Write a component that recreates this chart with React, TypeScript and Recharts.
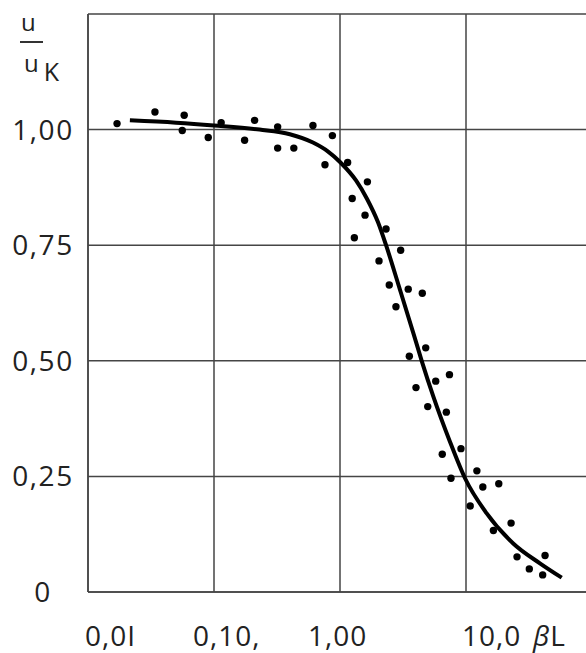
import { CartesianGrid, ComposedChart, Line, Scatter, XAxis, YAxis } from "recharts";

// measured points, beta*L vs u/uK
const pointX = [
  0.017, 0.034, 0.058, 0.056, 0.09, 0.114, 0.175, 0.21, 0.32, 0.32, 0.43, 0.61, 0.87, 0.76, 1.15, 1.65,
  1.25, 1.58, 2.32, 1.3, 3.03, 2.04, 2.46, 3.48, 4.5, 2.78, 4.79, 3.55, 5.75, 7.39, 4.01, 4.97, 6.98,
  6.48, 9.12, 7.6, 12.2, 13.6, 18.2, 10.8, 16.5, 22.8, 25.4, 42.4, 31.8, 40.6,
];
const pointY = [
  1.013, 1.038, 1.031, 0.998, 0.983, 1.015, 0.977, 1.02, 1.006, 0.96, 0.96, 1.009, 0.987, 0.924, 0.929,
  0.887, 0.851, 0.815, 0.785, 0.766, 0.739, 0.716, 0.664, 0.655, 0.646, 0.617, 0.528, 0.51, 0.456, 0.47,
  0.442, 0.401, 0.389, 0.298, 0.31, 0.246, 0.262, 0.227, 0.234, 0.186, 0.133, 0.149, 0.076, 0.079, 0.05,
  0.037,
];

// fitted curve
const curveX = [0.0215, 0.05, 0.1, 0.23, 0.4, 0.61, 0.8, 1.0, 1.34, 1.64, 2.0, 2.32, 2.99, 3.82, 4.45, 5.5, 7.46, 9.82, 14.6, 23.7, 38.6, 57.5];
const curveY = [1.02, 1.015, 1.009, 1.0, 0.99, 0.972, 0.953, 0.93, 0.89, 0.85, 0.8, 0.75, 0.654, 0.56, 0.5, 0.423, 0.325, 0.246, 0.17, 0.105, 0.062, 0.031];

const xTicks = [0.01, 0.1, 1, 10, 100];
const xLabels = ["0,0I", "0,10,", "1,00", "10,0", "βL"];
const yTicks = [0, 0.25, 0.5, 0.75, 1, 1.25];
const yLabels = ["0", "0,25", "0,50", "0,75", "1,00", ""];

const points = pointX.map((x, i) => ({ x, y: pointY[i] }));
const curve = curveX.map((x, i) => ({ x, y: curveY[i] }));

const FONT = "'Open Sans', sans-serif";
const GRID = "#454545";
// the scanned labels sit a bit off their grid lines
const xNudge = [-3, -21, -32, -4, -55];

function XTick(props: any) {
  const { x, payload } = props;
  const i = xTicks.indexOf(payload.value);
  const label = xLabels[i];
  return (
    <text x={x + xNudge[i]} y={646} textAnchor="start" fontFamily={FONT} fontSize={28} letterSpacing={1} fill="#222">
      {label === "βL" ? (
        <>
          <tspan fontStyle="italic">β</tspan>
          <tspan>L</tspan>
        </>
      ) : (
        label
      )}
    </text>
  );
}

function YTick(props: any) {
  const { y, payload } = props;
  const label = yLabels[yTicks.indexOf(payload.value)];
  return (
    <text x={43} y={y + 10} textAnchor="middle" fontFamily={FONT} fontSize={28} letterSpacing={1.5} fill="#222">
      {label}
    </text>
  );
}

function Dot(props: any) {
  return <circle cx={props.cx} cy={props.cy} r={3.7} fill="#000" />;
}

export default function App() {
  return (
    <div style={{ position: "absolute", left: 0, top: 0, width: 586, height: 653, overflow: "hidden", background: "#fff" }}>
      <div style={{ position: "absolute", left: 21, top: 10, fontFamily: FONT, fontSize: 24, color: "#222", lineHeight: 1 }}>
        u
      </div>
      <div style={{ position: "absolute", left: 20, top: 41, width: 23, height: 2, background: "#333" }} />
      <div style={{ position: "absolute", left: 24, top: 50, fontFamily: FONT, fontSize: 24, color: "#222", lineHeight: 1 }}>
        u<span style={{ fontSize: 25, position: "relative", top: 9, marginLeft: 5 }}>K</span>
      </div>
      <ComposedChart width={600} height={653} margin={{ top: 14, right: 8, bottom: 0, left: 0 }}>
        <CartesianGrid stroke={GRID} strokeWidth={1.5} horizontalValues={yTicks} verticalValues={xTicks} />
        <XAxis
          dataKey="x"
          type="number"
          scale="log"
          domain={[0.01, 100]}
          ticks={xTicks}
          allowDataOverflow
          height={61}
          axisLine={{ stroke: GRID, strokeWidth: 1.5 }}
          tickLine={false}
          tick={<XTick />}
        />
        <YAxis
          dataKey="y"
          type="number"
          domain={[0, 1.25]}
          ticks={yTicks}
          allowDataOverflow
          width={88}
          axisLine={{ stroke: GRID, strokeWidth: 1.5 }}
          tickLine={false}
          tick={<YTick />}
        />
        <Line
          data={curve}
          dataKey="y"
          type="monotone"
          stroke="#000"
          strokeWidth={4}
          dot={false}
          activeDot={false}
          isAnimationActive={false}
        />
        <Scatter data={points} dataKey="y" shape={<Dot />} isAnimationActive={false} />
      </ComposedChart>
    </div>
  );
}
